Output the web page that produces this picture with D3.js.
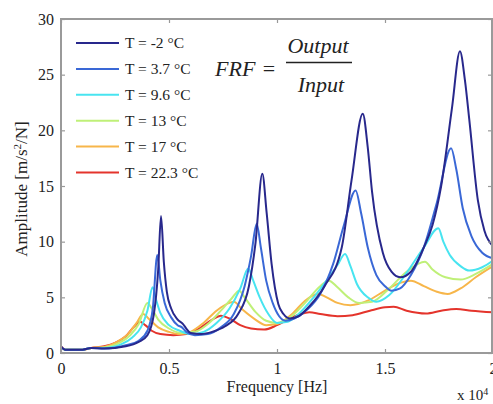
<!DOCTYPE html>
<html>
<head>
<meta charset="utf-8">
<script src="https://cdn.jsdelivr.net/npm/d3@7"></script>
<style>
  body { margin: 0; background: #fff; }
  svg text { font-family: "Liberation Serif", "Times New Roman", Times, "DejaVu Serif", serif; fill: #222; }
</style>
</head>
<body>
<script>
// frequency in units of 10^4 Hz, amplitude in m/s^2/N
var labels = ["T = -2 °C", "T = 3.7 °C", "T = 9.6 °C", "T = 13 °C", "T = 17 °C", "T = 22.3 °C"];
var colors = ["#28288c", "#3a68d6", "#48e4f0", "#bff078", "#f7b64a", "#e4342c"];

var xTicks = [0, 0.5, 1, 1.5, 2];
var yTicks = [0, 5, 10, 15, 20, 25, 30];

var t_m2 = [[0,0.6],[0.02,0.3],[0.1,0.3],[0.14,0.45],[0.2,0.4],[0.3,0.6],[0.36,1.0],[0.4,1.6],[0.43,3.5],[0.45,7.5],[0.463,12.3],[0.476,8.2],[0.49,5.5],[0.51,4.0],[0.54,3.0],[0.565,2.6],[0.58,2.2],[0.6,1.8],[0.65,1.7],[0.7,1.9],[0.76,2.4],[0.82,3.5],[0.87,6],[0.9,9.8],[0.932,16.1],[0.952,12.6],[0.975,8.0],[1.006,4.4],[1.03,3.5],[1.06,3.1],[1.1,3.3],[1.15,4.2],[1.22,6],[1.3,9.5],[1.345,15.5],[1.397,21.5],[1.42,18.5],[1.44,14.5],[1.49,9],[1.53,7.3],[1.57,6.8],[1.62,7.3],[1.68,9.5],[1.72,11.5],[1.76,15],[1.81,22],[1.847,27.1],[1.87,24.5],[1.89,21],[1.93,13.7],[1.96,11],[2.0,9.6]];
var t_3_7 = [[0,0.5],[0.02,0.3],[0.1,0.3],[0.14,0.45],[0.2,0.4],[0.3,0.7],[0.36,1.1],[0.4,2.0],[0.425,4],[0.446,8.8],[0.46,6.5],[0.48,4.5],[0.51,3.2],[0.54,2.5],[0.56,2.3],[0.58,1.9],[0.62,1.6],[0.68,1.7],[0.74,2.3],[0.8,3.5],[0.85,6],[0.88,8.7],[0.906,11.6],[0.925,9.5],[0.95,6.5],[0.98,4.5],[1.01,3.3],[1.04,2.9],[1.08,3.1],[1.14,3.9],[1.2,5.3],[1.26,8],[1.31,11.5],[1.364,14.6],[1.39,12.5],[1.42,9.5],[1.46,7],[1.5,6],[1.53,5.6],[1.57,5.8],[1.62,7],[1.68,9.5],[1.74,13.5],[1.806,18.4],[1.83,16.5],[1.86,13],[1.9,10.5],[1.95,9],[2.0,8.5]];
var t_9_6 = [[0,0.5],[0.02,0.3],[0.1,0.3],[0.14,0.45],[0.2,0.45],[0.28,0.8],[0.33,1.4],[0.37,2.3],[0.4,3.8],[0.424,5.9],[0.44,4.8],[0.46,3.6],[0.5,2.5],[0.55,2.0],[0.6,1.7],[0.66,1.9],[0.72,2.7],[0.78,4.0],[0.83,5.8],[0.867,7.6],[0.89,6.5],[0.92,5.0],[0.96,3.5],[1.0,2.7],[1.05,2.8],[1.1,3.5],[1.17,5],[1.24,6.8],[1.28,7.9],[1.315,8.9],[1.34,7.8],[1.37,6.2],[1.42,5.0],[1.46,4.6],[1.52,5.2],[1.6,7.2],[1.68,9.5],[1.747,11.2],[1.77,10],[1.8,8.8],[1.85,7.8],[1.89,7.4],[1.95,7.7],[2.0,8.3]];
var t_13 = [[0,0.5],[0.02,0.3],[0.1,0.3],[0.14,0.45],[0.2,0.5],[0.27,0.9],[0.32,1.6],[0.36,2.6],[0.4,4.5],[0.42,4.0],[0.45,3.0],[0.5,2.2],[0.56,1.8],[0.62,1.9],[0.68,2.6],[0.74,3.8],[0.79,4.9],[0.825,5.6],[0.85,5.0],[0.9,3.7],[0.95,2.9],[1.0,2.7],[1.06,3.2],[1.13,4.5],[1.2,6.0],[1.24,6.5],[1.28,5.9],[1.33,5.0],[1.38,4.5],[1.44,4.6],[1.52,5.8],[1.6,7.3],[1.685,8.2],[1.72,7.5],[1.78,6.8],[1.85,6.6],[1.92,7.1],[2.0,8.0]];
var t_17 = [[0,0.5],[0.02,0.3],[0.1,0.3],[0.14,0.45],[0.2,0.55],[0.26,1.0],[0.31,1.7],[0.35,2.7],[0.38,3.5],[0.41,3.0],[0.45,2.3],[0.5,1.9],[0.55,1.7],[0.6,1.9],[0.66,2.7],[0.72,3.8],[0.78,4.5],[0.8,4.6],[0.84,3.9],[0.9,3.0],[0.95,2.5],[1.0,2.6],[1.07,3.5],[1.13,4.7],[1.19,5.3],[1.23,5.0],[1.28,4.5],[1.34,4.3],[1.42,4.7],[1.5,5.6],[1.57,6.3],[1.62,6.5],[1.68,6.0],[1.74,5.5],[1.79,5.3],[1.85,5.8],[1.92,6.8],[2.0,7.8]];
var t_22_3 = [[0,0.6],[0.02,0.3],[0.1,0.3],[0.14,0.45],[0.2,0.6],[0.25,0.9],[0.3,1.5],[0.34,2.4],[0.365,2.8],[0.39,2.5],[0.42,2.0],[0.46,1.7],[0.52,1.6],[0.58,1.7],[0.64,2.2],[0.7,3.0],[0.74,3.35],[0.78,3.1],[0.83,2.5],[0.88,2.2],[0.94,2.1],[1.0,2.5],[1.06,3.1],[1.11,3.5],[1.15,3.65],[1.2,3.5],[1.28,3.3],[1.35,3.4],[1.43,3.8],[1.5,4.1],[1.54,4.15],[1.6,3.8],[1.69,3.55],[1.76,3.8],[1.83,3.95],[1.9,3.8],[2.0,3.65]];

var series = [t_m2, t_3_7, t_9_6, t_13, t_17, t_22_3];

var W = 493, H = 404;
var x0 = 61, x1 = 493, y0 = 353, y1 = 19;
var serif = "Liberation Serif, Times New Roman, Times, DejaVu Serif, serif";

var svg = d3.select("body").append("svg")
    .attr("width", W).attr("height", H)
    .attr("font-family", serif);

var x = d3.scaleLinear().domain([0, 2]).range([x0, x1]);
var y = d3.scaleLinear().domain([0, 30]).range([y0, y1]);

// curves (red drawn first so the cold ones sit on top)
var line = d3.line()
    .x(function(d) { return x(d[0]); })
    .y(function(d) { return y(d[1]); })
    .curve(d3.curveMonotoneX);

svg.append("g").selectAll("path")
    .data(series.map(function(s, i) { return {pts: s, i: i}; }).reverse())
    .enter().append("path")
    .attr("d", function(d) { return line(d.pts); })
    .attr("fill", "none")
    .attr("stroke", function(d) { return colors[d.i]; })
    .attr("stroke-width", 2)
    .attr("stroke-linejoin", "round");

// axes, ticks pointing inward like matlab
var gx = svg.append("g").attr("transform", "translate(0," + y0 + ")")
    .call(d3.axisBottom(x).tickValues(xTicks).tickSize(-4).tickPadding(10)
        .tickFormat(function(d) { return d; }));
var gy = svg.append("g").attr("transform", "translate(" + x0 + ",0)")
    .call(d3.axisLeft(y).tickValues(yTicks).tickSize(-4).tickPadding(7));
var gt = svg.append("g").attr("transform", "translate(0," + y1 + ")")
    .call(d3.axisTop(x).tickValues(xTicks).tickSize(-4).tickFormat(""));
var gr = svg.append("g").attr("transform", "translate(" + (x1 - 1) + ",0)")
    .call(d3.axisRight(y).tickValues(yTicks).tickSize(-4).tickFormat(""));

[gx, gy, gt, gr].forEach(function(g) {
    g.attr("font-family", serif).attr("font-size", 16);
    g.select(".domain").remove();
    g.selectAll("line").attr("stroke", "#999").attr("stroke-width", 1.2);
    g.selectAll("text").attr("fill", "#222");
});

svg.append("rect")
    .attr("x", x0).attr("y", y1)
    .attr("width", x1 - x0 - 1).attr("height", y0 - y1)
    .attr("fill", "none").attr("stroke", "#9a9a9a").attr("stroke-width", 2);

// axis titles
svg.append("text")
    .attr("x", 277).attr("y", 392)
    .attr("text-anchor", "middle").attr("font-size", 16)
    .text("Frequency [Hz]");

var yl = svg.append("text")
    .attr("transform", "translate(27,189) rotate(-90)")
    .attr("text-anchor", "middle").attr("font-size", 17);
yl.append("tspan").text("Amplitude [m/s");
yl.append("tspan").attr("baseline-shift", "super").attr("font-size", 11).text("2");
yl.append("tspan").text("/N]");

var ex = svg.append("text").attr("x", 457).attr("y", 400).attr("font-size", 15);
ex.append("tspan").text("x 10");
ex.append("tspan").attr("baseline-shift", "super").attr("font-size", 10).text("4");

// legend
var leg = svg.append("g").selectAll("g")
    .data(labels).enter().append("g")
    .attr("transform", function(d, i) { return "translate(0," + (43 + i * 25.9) + ")"; });
leg.append("line")
    .attr("x1", 76).attr("x2", 119)
    .attr("stroke", function(d, i) { return colors[i]; })
    .attr("stroke-width", 2);
leg.append("text")
    .attr("x", 125).attr("dy", "0.35em")
    .attr("font-size", 15.5)
    .text(function(d) { return d; });

// FRF = Output / Input
var frf = svg.append("g").attr("font-style", "italic").attr("font-size", 22);
frf.append("text").attr("x", 215).attr("y", 76).text("FRF");
frf.append("text").attr("x", 269).attr("y", 76).attr("text-anchor", "middle")
    .attr("font-style", "normal").text("=");
frf.append("text").attr("x", 318).attr("y", 53).attr("text-anchor", "middle").text("Output");
frf.append("line").attr("x1", 286).attr("x2", 352).attr("y1", 62.5).attr("y2", 62.5)
    .attr("stroke", "#222").attr("stroke-width", 1.3);
frf.append("text").attr("x", 321).attr("y", 92).attr("text-anchor", "middle").text("Input");
</script>
</body>
</html>
